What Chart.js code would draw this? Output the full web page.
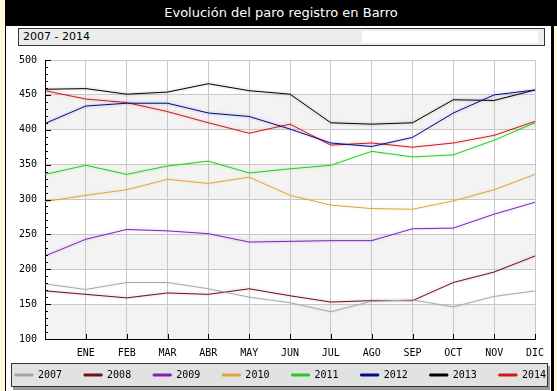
<!DOCTYPE html>
<html>
<head>
<meta charset="utf-8">
<script src="https://cdn.jsdelivr.net/npm/chart.js@4.4.1/dist/chart.umd.min.js"></script>
<style>
	html, body { margin: 0; padding: 0; }
	body { width: 557px; height: 391px; overflow: hidden; position: relative; background: #fffbd8; }
	#panel { position: absolute; left: 5px; top: 0; width: 545px; height: 391px; background: #fff; border-left: 1px solid #000; border-right: 3px solid #000; }
	#title { position: absolute; left: 5px; top: 0; width: 552px; height: 26px; background: #000; color: #fff; font: 13px "DejaVu Sans", sans-serif; line-height: 26px; text-align: center; }
	#sub { position: absolute; left: 18px; top: 28px; width: 521px; height: 16px; border: 1px solid #333; background: #ececec; font: 11px "DejaVu Sans", sans-serif; line-height: 16px; padding-left: 4px; }
	#smudge { position: absolute; left: 362px; top: 31px; width: 176px; height: 12px; background: #fff; }
	#legend-box { position: absolute; left: 11px; top: 363px; width: 535px; height: 22px; border: 1px solid #333; background: #e2e2e2; box-shadow: 2px 3px 0 #999; }
	#chart-wrap { position: absolute; left: -20px; top: 46px; width: 619px; height: 345px; z-index: 2; }
</style>
</head>
<body>
<div id="panel"></div>
<div id="title">Evolución del paro registro en Barro</div>
<div id="sub">2007 - 2014</div>
<div id="smudge"></div>
<div id="legend-box"></div>
<div id="chart-wrap"><canvas id="paro-chart"></canvas></div>
<script>
const months = ["", "ENE", "FEB", "MAR", "ABR", "MAY", "JUN", "JUL", "AGO", "SEP", "OCT", "NOV", "DIC"];
const years = ["2007", "2008", "2009", "2010", "2011", "2012", "2013", "2014"];

const paro2007 = [179, 171, 181, 181, 172, 160, 152, 139, 154, 156, 146, 161, 169];
const paro2008 = [169, 164, 159, 166, 164, 172, 162, 153, 155, 155, 181, 196, 219];
const paro2009 = [219, 243, 257, 255, 251, 239, 240, 241, 241, 258, 259, 279, 296];
const paro2010 = [297, 306, 314, 329, 323, 332, 306, 292, 287, 286, 298, 314, 336];
const paro2011 = [336, 349, 336, 348, 355, 338, 344, 349, 369, 361, 364, 385, 410];
const paro2012 = [409, 434, 438, 438, 424, 419, 401, 381, 376, 389, 424, 450, 457];
const paro2013 = [458, 459, 451, 454, 466, 456, 451, 410, 408, 410, 443, 442, 457];
const paro2014 = [456, 444, 439, 426, 410, 395, 408, 378, 381, 375, 381, 392, 412];

const yTicks = [100, 150, 200, 250, 300, 350, 400, 450, 500];

const series = [paro2007, paro2008, paro2009, paro2010, paro2011, paro2012, paro2013, paro2014];
const lineColors = ["#a6a6a6", "#6e1212", "#7f22b8", "#e2a23c", "#22cc22", "#000c8c", "#000000", "#d01818"];

const tickFont = { family: "'DejaVu Sans Mono', monospace", size: 10 };
const gridColor = "#c8c8c8";

// light bands behind every other 50-unit step
const bandPlugin = {
	id: "bands",
	beforeDraw(chart) {
		const { ctx, chartArea } = chart;
		const y = chart.scales.y;
		ctx.save();
		ctx.fillStyle = "#f3f3f3";
		for (let v = 100; v < 500; v += 100) {
			const top = y.getPixelForValue(v + 50);
			const bottom = y.getPixelForValue(v);
			ctx.fillRect(chartArea.left, top, chartArea.right - chartArea.left, bottom - top);
		}
		ctx.restore();
	}
};

// soft halo round each line
const glowPlugin = {
	id: "glow",
	beforeDatasetDraw(chart, args) {
		const ctx = chart.ctx;
		ctx.save();
		ctx.shadowColor = args.meta.dataset.options.borderColor + "55";
		ctx.shadowBlur = 3;
	},
	afterDatasetDraw(chart) {
		chart.ctx.restore();
	}
};

// inner tick marks on both axes, minor ones every 10
const tickMarkPlugin = {
	id: "tickMarks",
	afterDraw(chart) {
		const { ctx, chartArea } = chart;
		const y = chart.scales.y;
		const x = chart.scales.x;
		ctx.save();
		ctx.strokeStyle = "#000";
		ctx.lineWidth = 1;
		ctx.beginPath();
		for (let v = 100; v <= 500; v += 10) {
			const py = Math.round(y.getPixelForValue(v)) + 0.5;
			const len = v % 50 === 0 ? 6 : 3;
			ctx.moveTo(chartArea.left, py);
			ctx.lineTo(chartArea.left + len, py);
		}
		for (let i = 1; i < months.length; i++) {
			const px = Math.round(x.getPixelForValue(i)) + 0.5;
			ctx.moveTo(px, chartArea.bottom);
			ctx.lineTo(px, chartArea.bottom - 5);
		}
		ctx.stroke();
		ctx.restore();
	}
};

function buildDatasets() {
	return years.map((year, i) => ({
		label: year,
		data: series[i],
		borderColor: lineColors[i],
		backgroundColor: lineColors[i],
		borderWidth: 1,
		pointRadius: 0,
		tension: 0,
		fill: false
	}));
}

// trailing spaces give the legend its wide spacing without extra vertical padding
function legendLabels(chart) {
	return Chart.defaults.plugins.legend.labels.generateLabels(chart).map((item) => ({ ...item, text: item.text + "   " }));
}

function initChart() {
	const canvas = document.getElementById("paro-chart");
	return new Chart(canvas, {
		type: "line",
		data: { labels: months, datasets: buildDatasets() },
		plugins: [bandPlugin, glowPlugin, tickMarkPlugin],
		options: {
			responsive: true,
			maintainAspectRatio: false,
			animation: false,
			layout: { padding: { left: 0, right: 0, top: 13, bottom: 1 } },
			plugins: {
				tooltip: { enabled: false },
				legend: {
					position: "bottom",
					labels: {
						boxWidth: 18,
						boxHeight: 2,
						padding: 4,
						color: "#000",
						font: tickFont,
						generateLabels: legendLabels
					}
				}
			},
			scales: {
				x: {
					offset: false,
					grid: { color: gridColor, drawTicks: false },
					border: { color: "#000" },
					ticks: { color: "#000", font: tickFont, padding: 8, maxRotation: 0, autoSkip: false },
					afterFit: (scale) => { scale.height = 27; }
				},
				y: {
					min: 100,
					max: 500,
					afterBuildTicks: (scale) => { scale.ticks = yTicks.map((value) => ({ value })); },
					grid: { color: gridColor, drawTicks: false },
					border: { color: "#000" },
					ticks: { color: "#000", font: tickFont, padding: 8 },
					afterFit: (scale) => { scale.width = 65; }
				},
				y2: {
					position: "right",
					display: true,
					grid: { display: false },
					border: { display: false },
					ticks: { display: false },
					afterFit: (scale) => { scale.width = 64; }
				}
			}
		}
	});
}

document.addEventListener("DOMContentLoaded", () => {
	window.paroChart = initChart();
});
</script>
</body>
</html>
